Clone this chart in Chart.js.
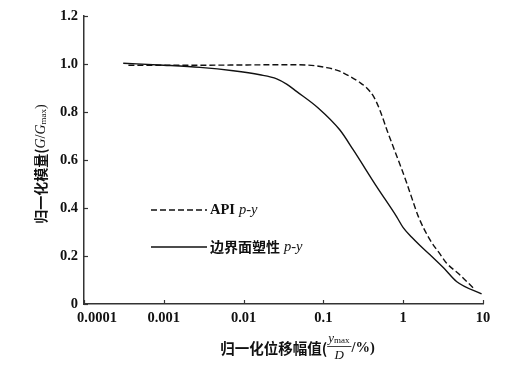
<!DOCTYPE html>
<html>
<head>
<meta charset="utf-8">
<script src="https://cdn.jsdelivr.net/npm/chart.js@4/dist/chart.umd.min.js"></script>
<style>
  html, body { margin: 0; padding: 0; background: #fff; }
  #wrap { width: 508px; height: 375px; position: relative; }
</style>
</head>
<body>
<div id="wrap"><canvas id="modulusChart"></canvas></div>
<script>
// normalised displacement amplitude (y_max / D, %) and normalised modulus G/Gmax
const apiX = [0.00036, 0.001, 0.003, 0.01, 0.03, 0.06, 0.11, 0.16, 0.215, 0.28, 0.35, 0.43, 0.51, 0.63, 0.79, 0.95, 1.11, 1.3, 1.55, 2.17, 2.8, 3.5, 5, 7.5];
const apiY = [0.995, 0.995, 0.995, 0.996, 0.997, 0.996, 0.985, 0.97, 0.948, 0.925, 0.9, 0.862, 0.808, 0.722, 0.635, 0.565, 0.503, 0.436, 0.364, 0.267, 0.215, 0.17, 0.125, 0.068];

const bsX = [0.00031, 0.001, 0.00284, 0.0074, 0.016, 0.026, 0.035, 0.046, 0.086, 0.161, 0.237, 0.465, 0.826, 1.0, 1.28, 1.6, 2.17, 3.2, 4.7, 9.6];
const bsY = [1.003, 0.995, 0.986, 0.972, 0.955, 0.938, 0.915, 0.886, 0.817, 0.725, 0.642, 0.489, 0.364, 0.318, 0.278, 0.246, 0.205, 0.151, 0.093, 0.042];

const xTicks = [0.0001, 0.001, 0.01, 0.1, 1, 10];
const xTickLabels = ['0.0001', '0.001', '0.01', '0.1', '1', '10'];
const yTicks = [0, 0.2, 0.4, 0.6, 0.8, 1.0, 1.2];
const yTickLabels = ['0', '0.2', '0.4', '0.6', '0.8', '1.0', '1.2'];

const seriesNames = ['API', '边界面塑性'];

const serif = '"Liberation Serif", "DejaVu Serif", serif';
const cjk = '"Noto Sans CJK SC", sans-serif';
const ink = '#111';

function toPoints(xs, ys) {
    return xs.map((x, i) => ({ x: x, y: ys[i] }));
}

// draw a row of text pieces with different fonts, returns total width
function drawRuns(ctx, runs, x, y, measureOnly) {
    let cx = x;
    runs.forEach(r => {
        ctx.font = r.font;
        if (!measureOnly) ctx.fillText(r.text, cx, y + (r.dy || 0));
        cx += ctx.measureText(r.text).width + (r.gap || 0);
    });
    return cx - x;
}

const decorations = {
    id: 'decorations',
    afterDraw(chart) {
        const ctx = chart.ctx;
        const xs = chart.scales.x;
        const ys = chart.scales.y;
        const area = chart.chartArea;
        ctx.save();
        ctx.strokeStyle = '#333';
        ctx.lineWidth = 1.2;

        // inward tick marks
        xTicks.forEach(v => {
            const px = Math.round(xs.getPixelForValue(v)) + 0.5;
            ctx.beginPath();
            ctx.moveTo(px, area.bottom);
            ctx.lineTo(px, area.bottom - 4);
            ctx.stroke();
        });
        yTicks.forEach(v => {
            const py = Math.round(ys.getPixelForValue(v)) + 0.5;
            ctx.beginPath();
            ctx.moveTo(area.left, py);
            ctx.lineTo(area.left + 4, py);
            ctx.stroke();
        });

        ctx.fillStyle = ink;
        ctx.textBaseline = 'middle';

        // x tick labels, the first one pushed clear of the y axis
        ctx.font = 'bold 14.5px ' + serif;
        xTicks.forEach((v, i) => {
            const px = xs.getPixelForValue(v);
            if (i === 0) {
                ctx.textAlign = 'left';
                ctx.fillText(xTickLabels[i], px - 7, area.bottom + 14);
            } else {
                ctx.textAlign = 'center';
                ctx.fillText(xTickLabels[i], px, area.bottom + 14);
            }
        });
        ctx.textAlign = 'left';

        // legend inside the plot
        const legendX = area.left + 67;
        const legendRows = [area.top + 194, area.top + 231];
        chart.data.datasets.forEach((ds, i) => {
            const ly = legendRows[i];
            ctx.save();
            ctx.strokeStyle = ds.borderColor;
            ctx.lineWidth = ds.borderWidth;
            ctx.setLineDash(ds.borderDash || []);
            ctx.beginPath();
            ctx.moveTo(legendX, ly);
            ctx.lineTo(legendX + 56, ly);
            ctx.stroke();
            ctx.restore();
            const nameFont = i === 0 ? 'bold 14.5px ' + serif : 'bold 14px ' + cjk;
            drawRuns(ctx, [
                { text: seriesNames[i], font: nameFont, gap: 4 },
                { text: 'p-y', font: 'italic 14.5px ' + serif }
            ], legendX + 59, ly);
        });

        // x axis title with the fraction y_max / D
        const xRuns = [
            { text: '归一化位移幅值(', font: 'bold 14.5px ' + cjk }
        ];
        const tailRuns = [
            { text: '/%)', font: 'bold 14.5px ' + serif }
        ];
        const titleY = area.bottom + 44;
        const headW = drawRuns(ctx, xRuns, 0, 0, true);
        ctx.font = 'italic 13px ' + serif;
        const yW = ctx.measureText('y').width;
        ctx.font = '9px ' + serif;
        const maxW = ctx.measureText('max').width;
        const fracW = yW + maxW + 3;
        const tailW = drawRuns(ctx, tailRuns, 0, 0, true);
        const totalW = headW + fracW + tailW;
        let tx = (area.left + area.right) / 2 + 14 - totalW / 2;
        drawRuns(ctx, xRuns, tx, titleY);
        tx += headW;
        // numerator
        drawRuns(ctx, [
            { text: 'y', font: 'italic 13px ' + serif },
            { text: 'max', font: '9px ' + serif, dy: 2 }
        ], tx + 1, titleY - 9);
        // fraction bar
        ctx.beginPath();
        ctx.lineWidth = 0.8;
        ctx.strokeStyle = ink;
        ctx.moveTo(tx, titleY - 1.5);
        ctx.lineTo(tx + fracW, titleY - 1.5);
        ctx.stroke();
        // denominator
        ctx.font = 'italic 13px ' + serif;
        ctx.textAlign = 'center';
        ctx.fillText('D', tx + fracW / 2, titleY + 8);
        ctx.textAlign = 'left';
        drawRuns(ctx, tailRuns, tx + fracW, titleY);

        // y axis title, rotated
        const yRuns = [
            { text: '归一化模量(', font: 'bold 14px ' + cjk },
            { text: 'G', font: 'italic 14px ' + serif },
            { text: '/', font: '14px ' + serif },
            { text: 'G', font: 'italic 14px ' + serif },
            { text: 'max', font: '9px ' + serif, dy: 3 },
            { text: ')', font: '14px ' + serif }
        ];
        ctx.translate(area.left - 43, (area.top + area.bottom) / 2 + 4);
        ctx.rotate(-Math.PI / 2);
        const yTitleW = drawRuns(ctx, yRuns, 0, 0, true);
        drawRuns(ctx, yRuns, -yTitleW / 2, 0);
        ctx.restore();
    }
};

const ctx = document.getElementById('modulusChart');

new Chart(ctx.getContext('2d'), {
    type: 'line',
    data: {
        datasets: [
            {
                label: seriesNames[0],
                data: toPoints(apiX, apiY),
                borderColor: ink,
                borderWidth: 1.4,
                borderDash: [6, 3],
                pointRadius: 0,
                fill: false,
                cubicInterpolationMode: 'monotone'
            },
            {
                label: seriesNames[1],
                data: toPoints(bsX, bsY),
                borderColor: ink,
                borderWidth: 1.4,
                pointRadius: 0,
                fill: false,
                cubicInterpolationMode: 'monotone'
            }
        ]
    },
    options: {
        responsive: true,
        maintainAspectRatio: false,
        animation: false,
        events: [],
        layout: {
            padding: { top: 16, right: 25, left: 0, bottom: 0 }
        },
        plugins: {
            legend: { display: false },
            tooltip: { enabled: false }
        },
        scales: {
            x: {
                type: 'logarithmic',
                min: 0.0001,
                max: 10,
                afterBuildTicks: scale => {
                    scale.ticks = xTicks.map(v => ({ value: v }));
                },
                afterFit: scale => { scale.height = 71; },
                grid: { display: false, drawTicks: false },
                border: { display: true, color: '#333', width: 1.5 },
                ticks: { display: false }
            },
            y: {
                min: 0,
                max: 1.2,
                afterBuildTicks: scale => {
                    scale.ticks = yTicks.map(v => ({ value: v }));
                },
                afterFit: scale => { scale.width = 84; },
                grid: { display: false, drawTicks: false },
                border: { display: true, color: '#333', width: 1.5 },
                ticks: {
                    padding: 6,
                    color: ink,
                    font: { family: serif, size: 14.5, weight: 'bold' },
                    callback: (value, index) => yTickLabels[index]
                }
            }
        }
    },
    plugins: [decorations]
});
</script>
</body>
</html>
